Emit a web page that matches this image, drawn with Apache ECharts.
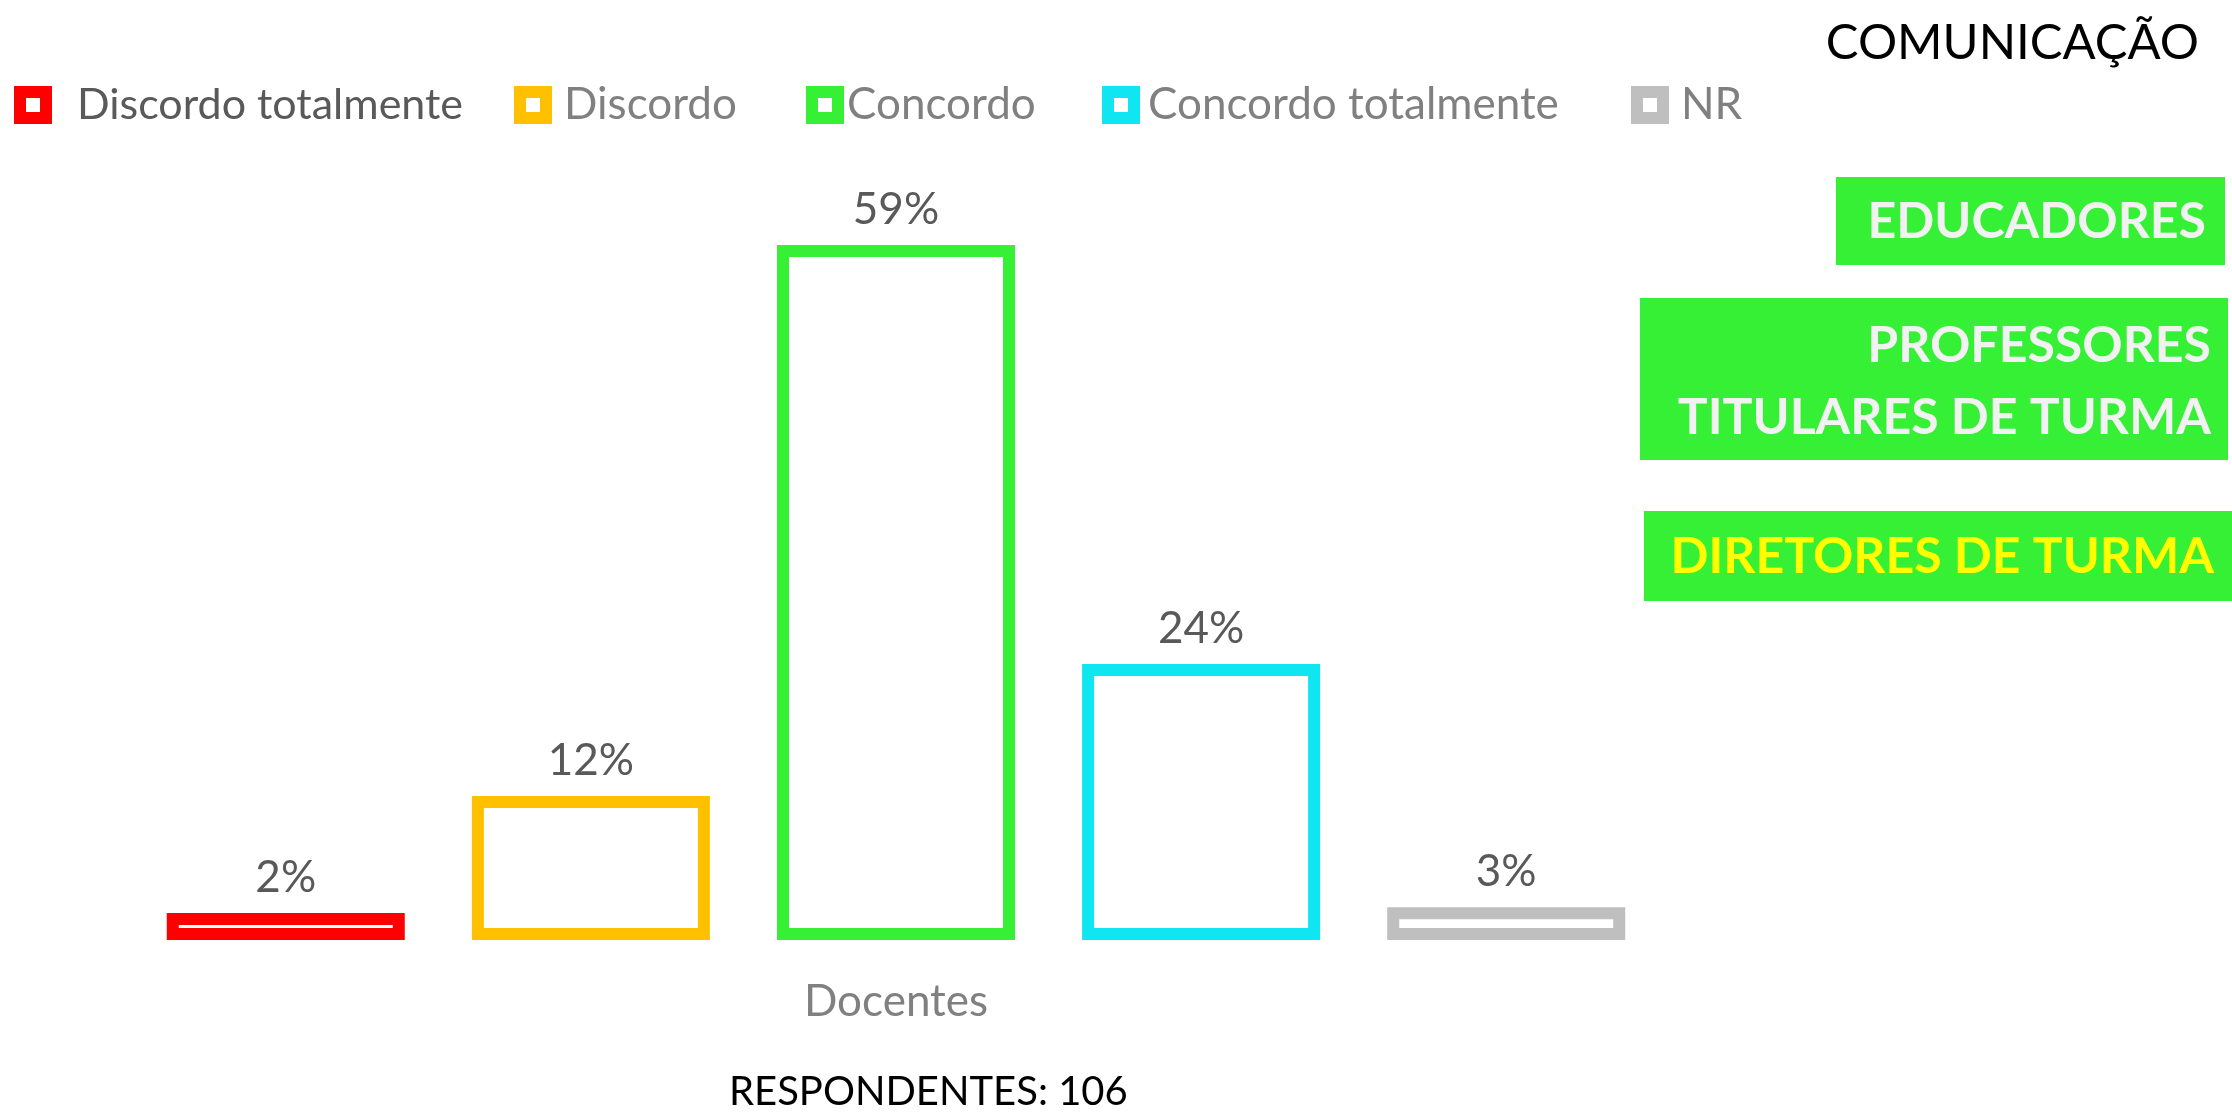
<!DOCTYPE html>
<html style="height: 100%">
<head>
    <meta charset="utf-8">
</head>
<body style="height: 100%; margin: 0">
    <div id="container" style="width: 2232px; height: 1112px;"></div>
    <script type="text/javascript" src="https://cdn.jsdelivr.net/npm/echarts@6/dist/echarts.min.js"></script>
    <script type="text/javascript">
        // shares (labels are shown rounded, as in the original)
        var categories = ['Docentes'];
        var seriesNames = ['Discordo totalmente', 'Discordo', 'Concordo', 'Concordo totalmente', 'NR'];
        var discordoTotal = [1.9];
        var discordo = [12.3];
        var concordo = [59.4];
        var concordoTotal = [23.6];
        var nr = [2.8];
        var seriesValues = [discordoTotal, discordo, concordo, concordoTotal, nr];

        var palette = ['#FF0000', '#FFC000', '#35F035', '#10E6F2', '#BFBFBF'];
        var font = 'Lato';
        var boxGreen = '#35F035';

        var dom = document.getElementById("container");
        var myChart = echarts.init(dom);

        // legend entries placed one by one (left edge of marker, gap before text)
        var legendLeft = [14, 514, 806, 1102, 1631];
        var legendPad = [26, 13, 4, 9, 13];
        var legendSize = [43, 44, 44, 44, 44];
        var legendColor = ['#595959', '#808080', '#808080', '#808080', '#808080'];
        var legends = seriesNames.map(function (name, i) {
            return {
                data: [name],
                left: legendLeft[i],
                top: 80,
                padding: 0,
                icon: 'rect',
                itemWidth: 26,
                itemHeight: 26,
                itemStyle: { color: '#ffffff', borderColor: palette[i], borderWidth: 12 },
                selectedMode: false,
                textStyle: {
                    fontFamily: font,
                    fontSize: legendSize[i],
                    lineHeight: 50,
                    color: legendColor[i],
                    padding: [0, 0, 0, legendPad[i]]
                }
            };
        });

        var series = seriesNames.map(function (name, i) {
            return {
                name: name,
                type: 'bar',
                data: seriesValues[i],
                barWidth: 238,
                barGap: '28.2%',
                barMinHeight: 27,
                itemStyle: {
                    color: '#ffffff',
                    borderColor: palette[i],
                    borderWidth: 12
                },
                label: {
                    show: true,
                    position: 'top',
                    distance: 10,
                    formatter: function (p) {
                        return Math.round(p.value) + '%';
                    },
                    fontFamily: font,
                    fontSize: 44,
                    lineHeight: 50,
                    color: '#595959'
                }
            };
        });

        var option = {
            backgroundColor: '#ffffff',
            animation: false,
            color: palette,
            title: [
                {
                    text: 'COMUNICAÇÃO',
                    right: 33,
                    top: 15,
                    padding: 0,
                    textStyle: { fontFamily: font, fontSize: 49, fontWeight: 'normal', color: '#000000', lineHeight: 56 }
                },
                {
                    text: 'RESPONDENTES: 106',
                    left: 729,
                    top: 1064,
                    padding: 0,
                    textStyle: { fontFamily: font, fontSize: 40, fontWeight: 'normal', color: '#000000', lineHeight: 56 }
                }
            ],
            legend: legends,
            grid: {
                left: 100,
                right: 540,
                top: 121,
                bottom: 172,
                containLabel: false
            },
            xAxis: {
                type: 'category',
                data: categories,
                axisLine: { show: false },
                axisTick: { show: false },
                axisLabel: {
                    margin: 37,
                    fontFamily: font,
                    fontSize: 44,
                    lineHeight: 50,
                    color: '#808080'
                }
            },
            yAxis: {
                type: 'value',
                min: 0,
                max: 70,
                show: false,
                splitLine: { show: false }
            },
            graphic: [
                { type: 'rect', shape: { x: 1836, y: 177, width: 389, height: 88 }, style: { fill: boxGreen } },
                {
                    type: 'text', x: 2206, y: 222,
                    style: { text: 'EDUCADORES', textAlign: 'right', textVerticalAlign: 'middle', fill: '#F2F2F2', font: 'bold 50px Lato' }
                },
                { type: 'rect', shape: { x: 1640, y: 298, width: 588, height: 162 }, style: { fill: boxGreen } },
                {
                    type: 'text', x: 2211, y: 382,
                    style: { text: 'PROFESSORES\nTITULARES DE TURMA', textAlign: 'right', textVerticalAlign: 'middle', lineHeight: 72, fill: '#F2F2F2', font: 'bold 50px Lato' }
                },
                { type: 'rect', shape: { x: 1644, y: 511, width: 588, height: 90 }, style: { fill: boxGreen } },
                {
                    type: 'text', x: 2214, y: 557,
                    style: { text: 'DIRETORES DE TURMA', textAlign: 'right', textVerticalAlign: 'middle', fill: '#FFFF00', font: 'bold 50px Lato' }
                }
            ],
            series: series
        };

        if (option && typeof option === "object") {
            myChart.setOption(option, true);
        }
    </script>
</body>
</html>
